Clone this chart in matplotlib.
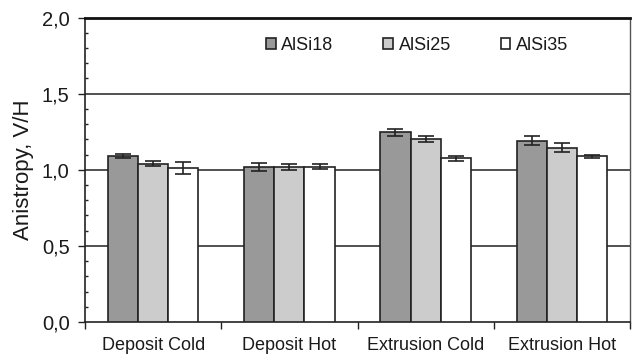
import numpy as np
import matplotlib
matplotlib.use("Agg")
import matplotlib.pyplot as plt
from matplotlib.ticker import MultipleLocator, FixedLocator, NullFormatter

plt.rcParams['font.family'] = ['Liberation Sans', 'DejaVu Sans']

categories = ["Deposit Cold", "Deposit Hot", "Extrusion Cold", "Extrusion Hot"]
series = ["AlSi18", "AlSi25", "AlSi35"]
alsi18 = [1.09, 1.02, 1.245, 1.19]
alsi25 = [1.04, 1.02, 1.20, 1.145]
alsi35 = [1.01, 1.02, 1.075, 1.09]
err18 = [0.012, 0.025, 0.025, 0.03]
err25 = [0.015, 0.02, 0.02, 0.03]
err35 = [0.04, 0.017, 0.018, 0.01]

values = [alsi18, alsi25, alsi35]
errors = [err18, err25, err35]
colors = ["#999999", "#cccccc", "#ffffff"]
edge = "#222222"
text_color = "#1a1a1a"

fig = plt.figure(figsize=(6.33, 3.55), dpi=100)
ax = fig.add_axes([85 / 633, 1 - 322 / 355, 545 / 633, (322 - 17.5) / 355])

x = np.arange(len(categories))
width = 0.222
for i, (vals, errs, col, name) in enumerate(zip(values, errors, colors, series)):
    ax.bar(x + (i - 1) * width, vals, width, color=col, edgecolor=edge,
           linewidth=1.2, label=name, zorder=3)
    ax.errorbar(x + (i - 1) * width, vals, yerr=errs, fmt='none',
                ecolor=edge, elinewidth=1.2, capsize=6, capthick=1.2, zorder=4)

ax.set_xlim(-0.5, len(categories) - 0.5)
ax.set_ylim(0, 2.0)

# horizontal reference lines
for yv in (0.5, 1.0, 1.5):
    ax.axhline(yv, color="#333333", linewidth=1.2, zorder=1)

# y axis ticks
ax.yaxis.set_minor_locator(MultipleLocator(0.1))
ax.set_yticks([0, 0.5, 1.0, 1.5, 2.0])
ax.set_yticklabels(["0,0", "0,5", "1,0", "1,5", "2,0"])
ax.tick_params(axis='y', which='major', direction='out', length=5, width=1,
               labelsize=14.5, pad=6, colors=edge, labelcolor=text_color)
ax.tick_params(axis='y', which='minor', direction='in', length=2.5, width=1,
               colors=edge)

# x axis: boundary ticks, labels at category centres
ax.xaxis.set_major_locator(FixedLocator(np.arange(-0.5, len(categories), 1.0)))
ax.xaxis.set_major_formatter(NullFormatter())
ax.xaxis.set_minor_locator(FixedLocator(x))
ax.set_xticklabels(categories, minor=True)
ax.tick_params(axis='x', which='major', direction='out', length=5, width=1,
               colors=edge)
ax.tick_params(axis='x', which='minor', length=0, labelsize=13, pad=10.5,
               labelcolor=text_color)

ax.set_ylabel("Anistropy, V/H", fontsize=16, color=text_color, labelpad=6)

for side in ("left", "bottom"):
    ax.spines[side].set_color(edge)
    ax.spines[side].set_linewidth(1.2)
ax.spines["top"].set_color("#111111")
ax.spines["top"].set_linewidth(2)
ax.spines["right"].set_color("#555555")
ax.spines["right"].set_linewidth(1)

ax.legend(ncol=3, loc='center left', bbox_to_anchor=(257 / 633, 1 - 45 / 355),
          bbox_transform=fig.transFigure, frameon=False, fontsize=13,
          handlelength=0.55, handleheight=0.55, handletextpad=0.3,
          columnspacing=2.75, borderpad=0, labelcolor=text_color)

fig.savefig("out.png", dpi=100)
